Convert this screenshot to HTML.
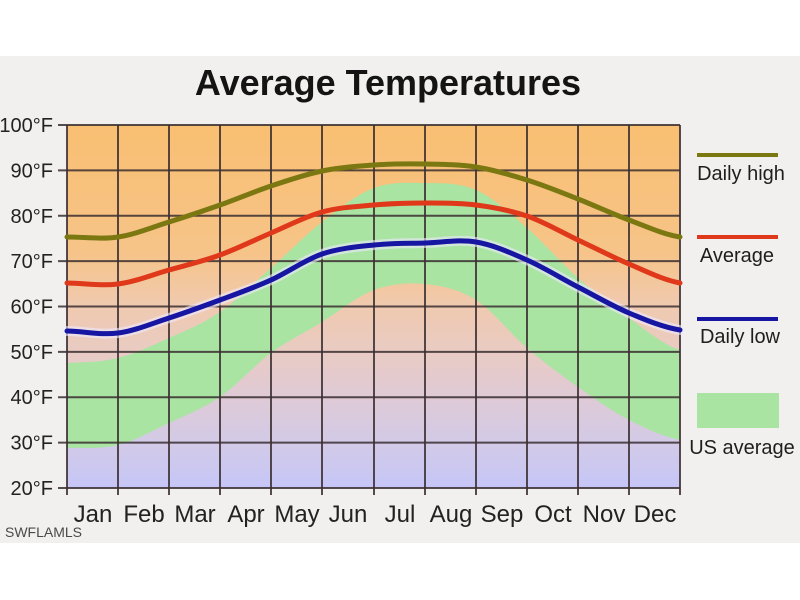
<!DOCTYPE html>
<html>
<head>
<meta charset="utf-8">
<style>
html,body{margin:0;padding:0;background:#ffffff;}
svg{display:block;}
text{font-family:"Liberation Sans",Arial,sans-serif;}
</style>
</head>
<body>
<svg width="800" height="600" viewBox="0 0 800 600" xmlns="http://www.w3.org/2000/svg">
  <defs>
    <linearGradient id="bg" gradientUnits="userSpaceOnUse" x1="0" y1="125" x2="0" y2="488">
      <stop offset="0" stop-color="#f9bf72"/>
      <stop offset="0.35" stop-color="#f6c488"/>
      <stop offset="0.5" stop-color="#f0cab0"/>
      <stop offset="0.62" stop-color="#e9cbc2"/>
      <stop offset="0.75" stop-color="#dfcad6"/>
      <stop offset="0.87" stop-color="#d3cae6"/>
      <stop offset="1" stop-color="#c6c6f7"/>
    </linearGradient>
  </defs>

  <rect x="0" y="56" width="800" height="487" fill="#f2f0ee"/>

  <text x="388" y="95" text-anchor="middle" font-size="36" font-weight="bold" fill="#141414">Average Temperatures</text>

  <rect x="67" y="125" width="613" height="363" fill="url(#bg)"/>

  <path fill="#a9e4a2" d="M67,363 C84,362.2 101,362.2 118,358 S152,345.7 169,338 S203,323.7 220,312 S254,283 271,268 S305,235.3 322,222 S357,194.5 374,188 S408,182.7 425,183 S459,182.5 476,190 S510,213.3 527,228 S561,263 578,278 S612,306 629,318 S663,344.7 680,350 L680,488 L67,488 Z"/>
  <path fill="url(#bg)" d="M67,448 C84,447.5 101,449.2 118,445 S152,431 169,423 S203,408.7 220,397 S254,365.5 271,353 S305,332.5 322,322 S357,296.3 374,290 S408,282.3 425,284 S459,289.3 476,300 S510,333.5 527,348 S561,375 578,387 S612,411.2 629,420 S663,436.7 680,440 L680,488 L67,488 Z"/>

  <g stroke="#3a2e30" stroke-width="2" stroke-opacity="0.85" fill="none">
    <line x1="67" y1="125" x2="680" y2="125"/>
    <line x1="58" y1="170.4" x2="680" y2="170.4"/>
    <line x1="58" y1="215.8" x2="680" y2="215.8"/>
    <line x1="58" y1="261.1" x2="680" y2="261.1"/>
    <line x1="58" y1="306.5" x2="680" y2="306.5"/>
    <line x1="58" y1="351.9" x2="680" y2="351.9"/>
    <line x1="58" y1="397.2" x2="680" y2="397.2"/>
    <line x1="58" y1="442.6" x2="680" y2="442.6"/>
    <line x1="58" y1="488" x2="680" y2="488"/>
    <line x1="58" y1="125" x2="67" y2="125"/>
    <line x1="67" y1="125" x2="67" y2="495"/>
    <line x1="118" y1="125" x2="118" y2="495"/>
    <line x1="169" y1="125" x2="169" y2="495"/>
    <line x1="220" y1="125" x2="220" y2="495"/>
    <line x1="271" y1="125" x2="271" y2="495"/>
    <line x1="322" y1="125" x2="322" y2="495"/>
    <line x1="374" y1="125" x2="374" y2="495"/>
    <line x1="425" y1="125" x2="425" y2="495"/>
    <line x1="476" y1="125" x2="476" y2="495"/>
    <line x1="527" y1="125" x2="527" y2="495"/>
    <line x1="578" y1="125" x2="578" y2="495"/>
    <line x1="629" y1="125" x2="629" y2="495"/>
    <line x1="680" y1="125" x2="680" y2="495"/>
  </g>

  <path fill="none" stroke="#7b7812" stroke-width="5" stroke-linecap="round" d="M67,237 C84,237 101,239.5 118,237 S152,227.3 169,222 S203,211 220,205 S254,191.7 271,186 S305,174.5 322,171 S357,166.2 374,165 S408,163.7 425,164 S459,164.3 476,167 S510,174.7 527,180 S561,192.3 578,199 S612,213.7 629,220 S663,234.2 680,237"/>

  <path fill="none" stroke="#e0381a" stroke-width="5" stroke-linecap="round" d="M67,283 C84,283.2 101,286.2 118,284 S152,274.8 169,270 S203,261.2 220,255 S254,240.2 271,233 S305,216.7 322,212 S357,206.5 374,205 S408,203 425,203 S459,202.8 476,205 S510,210.2 527,216 S561,232 578,240 S612,256.8 629,264 S663,279.8 680,283"/>

  <path fill="none" stroke="#eeeaff" stroke-opacity="0.6" stroke-width="10" stroke-linecap="round" d="M67,331 C84,331.3 101,335.2 118,333 S152,323.5 169,318 S203,306.3 220,300 S254,287.7 271,280 S305,259.8 322,254 S357,246.8 374,245 S408,243.5 425,243 S459,239.2 476,242 S510,252.5 527,260 S561,278.2 578,287 S612,305.8 629,313 S663,327.2 680,330"/>
  <path fill="none" stroke="#1616a2" stroke-width="5" stroke-linecap="round" d="M67,331 C84,331.3 101,335.2 118,333 S152,323.5 169,318 S203,306.3 220,300 S254,287.7 271,280 S305,259.8 322,254 S357,246.8 374,245 S408,243.5 425,243 S459,239.2 476,242 S510,252.5 527,260 S561,278.2 578,287 S612,305.8 629,313 S663,327.2 680,330"/>

  <g font-size="20" fill="#222" text-anchor="end">
    <text x="53" y="132">100°F</text>
    <text x="53" y="177.4">90°F</text>
    <text x="53" y="222.8">80°F</text>
    <text x="53" y="268">70°F</text>
    <text x="53" y="313.5">60°F</text>
    <text x="53" y="358.9">50°F</text>
    <text x="53" y="404.2">40°F</text>
    <text x="53" y="449.6">30°F</text>
    <text x="53" y="495">20°F</text>
  </g>

  <g font-size="24" fill="#222" text-anchor="middle">
    <text x="93" y="522">Jan</text>
    <text x="144" y="522">Feb</text>
    <text x="195" y="522">Mar</text>
    <text x="246" y="522">Apr</text>
    <text x="297" y="522">May</text>
    <text x="348" y="522">Jun</text>
    <text x="400" y="522">Jul</text>
    <text x="451" y="522">Aug</text>
    <text x="502" y="522">Sep</text>
    <text x="553" y="522">Oct</text>
    <text x="604" y="522">Nov</text>
    <text x="655" y="522">Dec</text>
  </g>

  <line x1="697" y1="155" x2="778" y2="155" stroke="#7b7812" stroke-width="4"/>
  <line x1="697" y1="237" x2="778" y2="237" stroke="#e0381a" stroke-width="4"/>
  <line x1="697" y1="319" x2="778" y2="319" stroke="#1616a2" stroke-width="4"/>
  <rect x="697" y="393" width="82" height="35" fill="#a9e4a2"/>
  <g font-size="20" fill="#1e1e1e" text-anchor="middle">
    <text x="741" y="180">Daily high</text>
    <text x="737" y="262">Average</text>
    <text x="740" y="343">Daily low</text>
    <text x="742" y="454">US average</text>
  </g>

  <text x="5" y="537" font-size="14" fill="#4a4a4a">SWFLAMLS</text>
</svg>
</body>
</html>
